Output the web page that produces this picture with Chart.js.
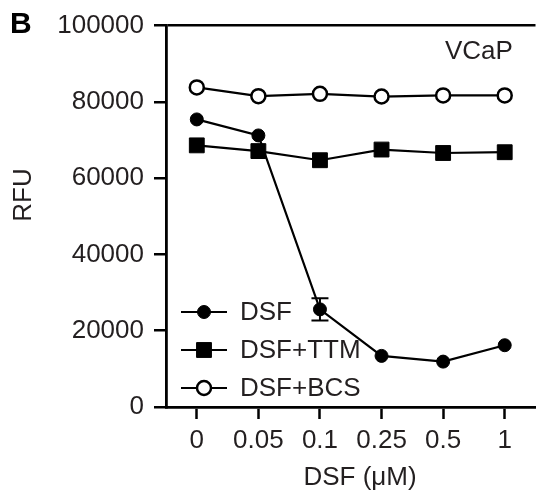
<!DOCTYPE html>
<html>
<head>
<meta charset="utf-8">
<script src="https://cdn.jsdelivr.net/npm/chart.js@4"></script>
<style>
  html, body { margin: 0; padding: 0; background: #fff; }
  #wrap { width: 547px; height: 493px; }
</style>
</head>
<body>
<div id="wrap"><canvas id="myChart" width="547" height="493"></canvas></div>
<script>
// concentrations on the x axis
const doses = ["0", "0.05", "0.1", "0.25", "0.5", "1"];
// RFU values
const dsf = [75400, 71200, 25600, 13400, 11900, 16200];
const dsfErr = [0, 0, 2900, 0, 0, 0];
const dsfTtm = [68600, 67100, 64700, 67500, 66600, 66800];
const dsfBcs = [83800, 81500, 82100, 81400, 81700, 81700];
const yMax = 100000;
const yStep = 20000;

const textColor = "#231f20";
const fontFamily = "'Liberation Sans', Arial, sans-serif";

// error bars + legend + panel letter + axis titles
const extras = {
  id: "extras",
  afterDatasetsDraw(chart) {
    const ctx = chart.ctx;
    const xs = chart.scales.x;
    const ys = chart.scales.y;

    // error bars for DSF
    ctx.save();
    ctx.strokeStyle = "#000";
    ctx.lineWidth = 2;
    dsfErr.forEach((e, i) => {
      if (!e) return;
      const x = xs.getPixelForValue(i);
      const top = ys.getPixelForValue(dsf[i] + e);
      const bot = ys.getPixelForValue(dsf[i] - e);
      ctx.beginPath();
      ctx.moveTo(x, top);
      ctx.lineTo(x, bot);
      ctx.moveTo(x - 8.5, top);
      ctx.lineTo(x + 8.5, top);
      ctx.moveTo(x - 8.5, bot);
      ctx.lineTo(x + 8.5, bot);
      ctx.stroke();
    });
    ctx.restore();

    // legend inside the plot
    ctx.save();
    chart.data.datasets.forEach((ds, i) => {
      const y = 312 + i * 38;
      ctx.strokeStyle = "#000";
      ctx.lineWidth = 2.2;
      ctx.beginPath();
      ctx.moveTo(181, y);
      ctx.lineTo(227, y);
      ctx.stroke();
      ctx.fillStyle = ds.pointBackgroundColor;
      ctx.lineWidth = ds.pointBorderWidth;
      ctx.beginPath();
      if (ds.pointStyle === "rect") {
        const s = Math.SQRT1_2 * ds.pointRadius;
        ctx.rect(204 - s, y - s, 2 * s, 2 * s);
      } else {
        ctx.arc(204, y, ds.pointRadius, 0, Math.PI * 2);
      }
      ctx.fill();
      ctx.stroke();
      ctx.fillStyle = textColor;
      ctx.font = "26px " + fontFamily;
      ctx.textAlign = "left";
      ctx.textBaseline = "middle";
      ctx.fillText(ds.label, 240, y + 1);
    });
    ctx.restore();

    // panel letter, cell line, axis titles
    ctx.save();
    ctx.fillStyle = "#000";
    ctx.font = "bold 30px " + fontFamily;
    ctx.textAlign = "left";
    ctx.textBaseline = "alphabetic";
    ctx.fillText("B", 10, 33);
    ctx.fillStyle = textColor;
    ctx.font = "26px " + fontFamily;
    ctx.fillText("VCaP", 445, 59);
    ctx.textAlign = "center";
    ctx.fillText("DSF (\u03bcM)", 360, 485);
    ctx.translate(31, 195);
    ctx.rotate(-Math.PI / 2);
    ctx.fillText("RFU", 0, 0);
    ctx.restore();
  }
};

const ctx = document.getElementById("myChart").getContext("2d");

new Chart(ctx, {
  type: "line",
  data: {
    labels: doses,
    datasets: [
      {
        label: "DSF",
        data: dsf,
        borderColor: "#000",
        borderWidth: 2.2,
        pointStyle: "circle",
        pointRadius: 6.5,
        pointBorderWidth: 1,
        pointBackgroundColor: "#000",
        pointBorderColor: "#000"
      },
      {
        label: "DSF+TTM",
        data: dsfTtm,
        borderColor: "#000",
        borderWidth: 2.2,
        pointStyle: "rect",
        pointRadius: 10.5,
        pointBorderWidth: 1,
        pointBackgroundColor: "#000",
        pointBorderColor: "#000"
      },
      {
        label: "DSF+BCS",
        data: dsfBcs,
        borderColor: "#000",
        borderWidth: 2.2,
        pointStyle: "circle",
        pointRadius: 7,
        pointBorderWidth: 2.5,
        pointBackgroundColor: "#fff",
        pointBorderColor: "#000"
      }
    ]
  },
  options: {
    responsive: false,
    animation: false,
    layout: { padding: { top: 24, left: 0, right: 0, bottom: 0 } },
    plugins: {
      legend: { display: false },
      tooltip: { enabled: false }
    },
    scales: {
      x: {
        offset: true,
        afterFit(scale) { scale.height = 86; },
        grid: {
          drawOnChartArea: false,
          tickLength: 12,
          tickColor: "#000",
          tickWidth: 2.5
        },
        border: { color: "#000", width: 2.8 },
        ticks: {
          padding: 6,
          color: textColor,
          font: { size: 26, family: fontFamily },
          maxRotation: 0
        }
      },
      y: {
        min: 0,
        max: yMax,
        afterFit(scale) { scale.width = 166; },
        grid: {
          color: (c) => (c.tick && c.tick.value === yMax ? "#000" : "rgba(0,0,0,0)"),
          lineWidth: 2.5,
          tickLength: 12,
          tickColor: "#000",
          tickWidth: 2.5
        },
        border: { color: "#000", width: 2.8 },
        ticks: {
          stepSize: yStep,
          padding: 10,
          color: textColor,
          font: { size: 26, family: fontFamily },
          callback: (v) => String(v)
        }
      }
    }
  },
  plugins: [extras]
});
</script>
</body>
</html>
